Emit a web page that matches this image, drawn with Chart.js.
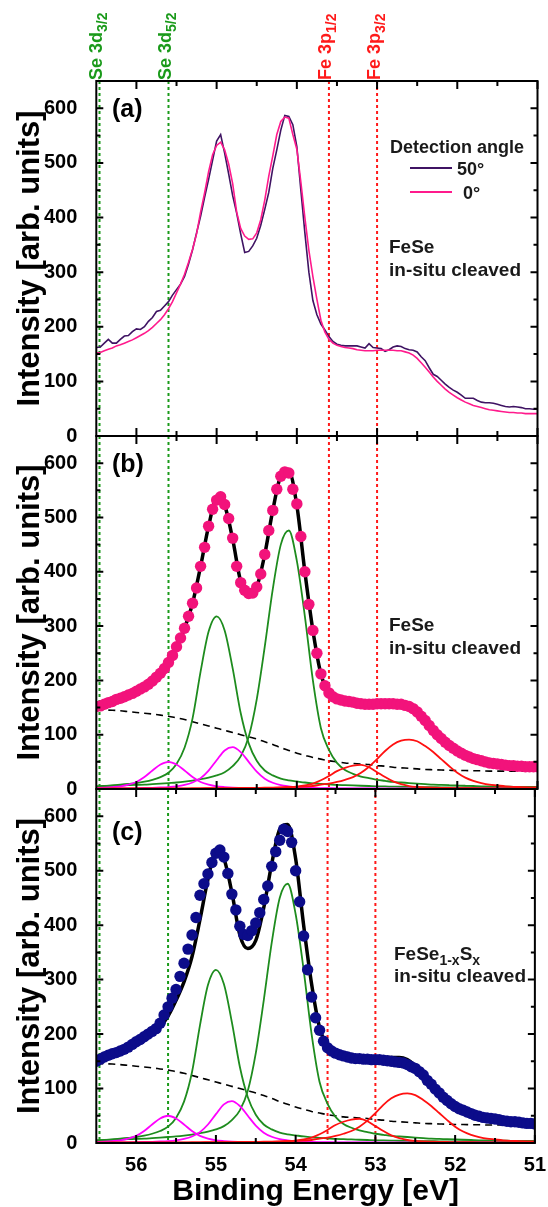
<!DOCTYPE html>
<html>
<head>
<meta charset="utf-8">
<script src="https://cdn.jsdelivr.net/npm/chart.js@4.4.0/dist/chart.umd.min.js"></script>
<style>
  html, body { margin: 0; padding: 0; background: #fff; }
  #wrap { position: relative; width: 548px; height: 1207px; overflow: hidden; }
  canvas { position: absolute; left: 0; }
</style>
</head>
<body>
<div id="wrap">
  <canvas id="pa" width="548" height="460" style="top:0px;width:548px;height:460px"></canvas>
  <canvas id="pb" width="548" height="408" style="top:412px;width:548px;height:408px"></canvas>
  <canvas id="pc" width="548" height="442" style="top:765px;width:548px;height:442px"></canvas>
</div>
<script>
// measured spectra, 0.05 eV steps
const energy = [56.5,56.45,56.4,56.35,56.3,56.25,56.2,56.15,56.1,56.05,
  56,55.95,55.9,55.85,55.8,55.75,55.7,55.65,55.6,55.55,
  55.5,55.45,55.4,55.35,55.3,55.25,55.2,55.15,55.1,55.05,
  55,54.95,54.9,54.85,54.8,54.75,54.7,54.65,54.6,54.55,
  54.5,54.45,54.4,54.35,54.3,54.25,54.2,54.15,54.1,54.05,
  54,53.95,53.9,53.85,53.8,53.75,53.7,53.65,53.6,53.55,
  53.5,53.45,53.4,53.35,53.3,53.25,53.2,53.15,53.1,53.05,
  53,52.95,52.9,52.85,52.8,52.75,52.7,52.65,52.6,52.55,
  52.5,52.45,52.4,52.35,52.3,52.25,52.2,52.15,52.1,52.05,
  52,51.95,51.9,51.85,51.8,51.75,51.7,51.65,51.6,51.55,
  51.5,51.45,51.4,51.35,51.3,51.25,51.2,51.15,51.1,51.05,
  51];

// FeSe, 0 deg (panel a pink line, panel b markers)
const fese0 = [152,153,156,159,161,165,167,170,173,176,
  180,184,188,193,199,206,213,222,233,246,
  262,278,296,318,342,370,410,445,484,515,
  532,538,524,498,462,410,380,366,360,361,
  372,396,432,476,513,552,576,584,582,552,
  525,465,400,340,292,250,212,190,177,170,
  166,164,162,161,160,158,157,156,156,156,
  157,157,157,157,157,156,156,154,152,148,
  142,134,126,117,108,100,93,86,80,75,
  70,66,62,59,56,54,52,50,48,47,
  46,45,44,43,43,42,42,41,41,41,
  41];

// FeSe, 50 deg
const fese50 = [162,163,170,177,170,170,177,183,184,191,
  196,195,200,210,217,228,230,238,246,258,
  268,278,292,315,341,372,402,437,470,505,
  540,552,518,480,440,408,370,336,338,348,
  362,386,415,446,490,524,560,587,585,570,
  530,450,372,300,248,222,205,194,182,173,
  168,166,165,165,165,165,163,161,169,162,
  161,160,155,158,163,165,164,160,158,157,
  154,145,138,125,113,109,102,95,89,84,
  80,75,69,69,69,65,62,61,61,60,
  58,56,54,53,54,53,52,50,50,49,
  49];

// FeSe1-xSx (panel c markers)
const feses = [150,154,158,161,164,166,169,172,176,181,
  186,190,195,200,205,210,220,235,250,266,
  282,306,330,356,382,414,455,476,494,515,
  532,538,525,495,457,428,398,383,381,390,
  404,423,447,472,508,535,556,576,572,552,
  500,443,380,318,268,230,207,187,175,169,
  165,162,160,158,156,155,155,154,154,153,
  153,153,152,151,150,149,148,147,144,140,
  137,131,125,115,108,99,92,84,78,72,
  67,63,60,57,54,51,49,47,46,45,
  44,43,41,40,39,39,38,37,36,36,
  35];

// fit curves, 0.1 eV steps
const fitEnergy = [56.5,56.4,56.3,56.2,56.1,56,55.9,55.8,55.7,55.6,
  55.5,55.4,55.3,55.2,55.1,55,54.9,54.8,54.7,54.6,
  54.5,54.4,54.3,54.2,54.1,54,53.9,53.8,53.7,53.6,
  53.5,53.4,53.3,53.2,53.1,53,52.9,52.8,52.7,52.6,
  52.5,52.4,52.3,52.2,52.1,52,51.9,51.8,51.7,51.6,
  51.5,51.4,51.3,51.2,51.1,51];

const fitTotal = [152,156,161,167,173,180,188,199,213,233,
  262,296,342,410,484,535,522,460,382,357,
  372,432,513,576,585,522,400,292,212,177,
  166,162,160,157,156,157,157,157,157,153,
  142,126,108,93,80,70,62,56,52,48,
  46,44,43,42,41,41];

const background = [146,145.5,145,144,142.5,141,139.5,138,136,134,
  131,128,124,120,116,112,108,104,100,96,
  92,87,82,76,71,66,62,58,55,52,
  50,48,47,46,45,43,42,40,39,38,
  37,36,35.5,35,34.5,34,34,33.5,33.5,33,
  33,33,33,33,33,33];

const se3d52 = [4.5,5.5,6.5,8,9.5,11,13.5,17,22,30,
  46,76,130,216,290,318,292,222,140,84,
  52,34,25,19,16,14,12,10.5,9.5,8.5,
  7.5,7,6.5,6,5.5,5,4.7,4.4,4.1,3.9,
  3.7,3.5,3.3,3.1,3,2.9,2.8,2.7,2.6,2.5,
  2.4,2.3,2.2,2.1,2,2];

const se3d32 = [5,5.5,6,6.5,7,7.5,8,9,10,11,
  12,13.5,15.5,18,21,25,31,42,60,96,
  165,262,368,450,476,420,318,200,112,72,
  48,35,28,23,20,17,15,13,12,11,
  10,9,8,7.5,7,6.5,6,5.5,5,5,
  4.5,4.5,4,4,4,3.5];

const seMagentaA = [2,2.5,3.5,5,8,13,22,34,45,50,
  45,34,22,13,8,5,3.5,2.5,2,1.6,
  1.4,1.2,1.1,1,1,0.9,0.9,0.8,0.8,0.8,
  0.7,0.7,0.7,0.7,0.6,0.6,0.6,0.6,0.6,0.5,
  0.5,0.5,0.5,0.5,0.5,0.5,0.5,0.5,0.5,0.5,
  0.5,0.4,0.4,0.4,0.4,0.4];

const seMagentaB = [0.9,1,1.1,1.2,1.3,1.5,1.8,2.2,2.8,3.6,
  5,7.5,12,20,34,53,71,77,68,50,
  32,19,11.5,7,4.8,3.4,2.6,2,1.7,1.5,
  1.3,1.2,1.1,1,0.9,0.9,0.8,0.8,0.8,0.7,
  0.7,0.7,0.7,0.6,0.6,0.6,0.6,0.6,0.5,0.5,
  0.5,0.5,0.5,0.5,0.5,0.5];

const fe3p12 = [0.5,0.5,0.5,0.5,0.5,0.6,0.6,0.6,0.7,0.7,
  0.8,0.8,0.9,0.9,1,1.1,1.2,1.3,1.4,1.5,
  1.7,1.9,2.2,2.7,3.4,4.5,6.5,10,16,24,
  33,39,43,44.5,40,31,22,14,9,5.5,
  3.8,2.8,2.3,2,1.8,1.6,1.5,1.4,1.3,1.2,
  1.2,1.1,1.1,1,1,1];

const fe3p32 = [0.8,0.8,0.9,0.9,0.9,1,1,1,1.1,1.1,
  1.2,1.2,1.3,1.3,1.4,1.5,1.6,1.7,1.8,1.9,
  2.1,2.3,2.6,3,3.5,4,4.5,5.5,8,10,
  13,17,22,30,41,55,70,82,89,91,
  88,79,68,55,42,30,21,15,11,8,
  6.5,5,4,3.5,3,2.8];

// axes
const xMajor = [56, 55, 54, 53, 52, 51];
const xMinor = [55.5, 54.5, 53.5, 52.5, 51.5];
const yMajor = [0, 100, 200, 300, 400, 500, 600];
const yMinor = [50, 150, 250, 350, 450, 550];

// reference lines (Se 3d, Fe 3p)
const guideEnergy = [56.46, 55.6, 53.6, 53.0];
const guideColor = ['#1a9a1a', '#1a9a1a', '#ff1a1a', '#ff1a1a'];
const guideText = [['Se 3d', '3/2'], ['Se 3d', '5/2'], ['Fe 3p', '1/2'], ['Fe 3p', '3/2']];

const FONT = "'Liberation Sans', Arial, sans-serif";
const PURPLE = '#3f1363';
const PINK = '#ff1a8c';
const PINK_DOT = '#f2137b';
const NAVY = '#0c0c8a';
const GREEN = '#1e8c1e';
const MAGENTA = '#ff00ff';
const RED = '#ff1010';

Chart.defaults.font.family = FONT;

const pts = (xs, ys) => xs.map((x, i) => ({ x: x, y: ys[i] }));

function richText(ctx, parts, x, y, rotate, color) {
  ctx.save();
  ctx.translate(x, y);
  if (rotate) ctx.rotate(-Math.PI / 2);
  ctx.fillStyle = color;
  ctx.textAlign = 'left';
  ctx.textBaseline = 'alphabetic';
  let cx = 0;
  parts.forEach(p => {
    ctx.font = 'bold ' + p[1] + 'px ' + FONT;
    ctx.fillText(p[0], cx, p[2] || 0);
    cx += ctx.measureText(p[0]).width;
  });
  ctx.restore();
}

const panelPlugin = {
  id: 'panel',
  beforeDatasetsDraw(chart) {
    const { ctx, chartArea: a, scales: { x } } = chart;
    ctx.save();
    ctx.lineWidth = 2;
    ctx.setLineDash([3, 3]);
    guideEnergy.forEach((e, i) => {
      const px = x.getPixelForValue(e);
      ctx.strokeStyle = guideColor[i];
      ctx.beginPath();
      ctx.moveTo(px, a.top);
      ctx.lineTo(px, a.bottom);
      ctx.stroke();
    });
    ctx.restore();
  },
  afterDraw(chart, args, o) {
    const { ctx, chartArea: a, scales: { x, y } } = chart;
    ctx.save();
    // frame + inward ticks
    ctx.strokeStyle = '#000';
    ctx.lineWidth = 2;
    ctx.strokeRect(a.left, a.top, a.right - a.left, a.bottom - a.top);
    ctx.beginPath();
    const tickX = (list, len) => list.forEach(v => {
      const px = x.getPixelForValue(v);
      ctx.moveTo(px, a.top); ctx.lineTo(px, a.top + len);
      ctx.moveTo(px, a.bottom); ctx.lineTo(px, a.bottom - len);
    });
    const tickY = (list, len) => list.forEach(v => {
      const py = y.getPixelForValue(v);
      ctx.moveTo(a.left, py); ctx.lineTo(a.left + len, py);
      ctx.moveTo(a.right, py); ctx.lineTo(a.right - len, py);
    });
    tickX(xMajor, 8); tickX(xMinor, 5);
    tickY(yMajor, 7); tickY(yMinor, 4);
    ctx.stroke();

    // panel letter
    ctx.fillStyle = '#000';
    ctx.font = 'bold 25px ' + FONT;
    ctx.textBaseline = 'middle';
    ctx.fillText(o.label, 112, a.top + o.labelDy);

    // sample notes
    (o.notes || []).forEach(n => richText(ctx, n.parts, n.x, a.top + n.dy, false, '#1a1a1a'));

    // legend (panel a only)
    if (o.legend) {
      richText(ctx, [['Detection angle', 18]], 390, 152.5, false, '#1a1a1a');
      ctx.lineWidth = 2;
      ctx.strokeStyle = PURPLE;
      ctx.beginPath(); ctx.moveTo(410, 168); ctx.lineTo(452, 168); ctx.stroke();
      ctx.strokeStyle = PINK;
      ctx.beginPath(); ctx.moveTo(410, 192); ctx.lineTo(452, 192); ctx.stroke();
      richText(ctx, [['50°', 18]], 457, 174.5, false, '#1a1a1a');
      richText(ctx, [['0°', 18]], 463, 198.5, false, '#1a1a1a');
    }

    // rotated line labels above panel a
    if (o.topLabels) {
      guideEnergy.forEach((e, i) => {
        const px = x.getPixelForValue(e) + 2.5;
        richText(ctx, [[guideText[i][0], 18], [guideText[i][1], 14, 5]], px, 80, true, guideColor[i]);
      });
    }
    ctx.restore();
  }
};

function options(cfg) {
  return {
    responsive: false,
    animation: false,
    devicePixelRatio: 1,
    layout: { padding: { top: cfg.padTop, bottom: cfg.padBottom, left: 0, right: 10.5 } },
    plugins: { legend: { display: false }, tooltip: { enabled: false }, panel: cfg.panel },
    elements: { point: { radius: 0 } },
    scales: {
      x: {
        type: 'linear', min: 51, max: 56.5, reverse: true, display: cfg.showX,
        grid: { display: false }, border: { display: false },
        afterBuildTicks: s => { s.ticks = xMajor.map(v => ({ value: v })); },
        afterFit: s => { if (cfg.showX) s.height = 64; },
        ticks: { font: { size: 20, weight: 'bold' }, color: '#000', padding: 2, maxRotation: 0, autoSkip: false },
        title: { display: true, text: 'Binding Energy [eV]', color: '#000',
                 font: { size: 30, weight: 'bold', lineHeight: 1 }, padding: 0 }
      },
      y: {
        min: 0, max: 650,
        grid: { display: false }, border: { display: false },
        afterBuildTicks: s => { s.ticks = yMajor.map(v => ({ value: v })); },
        afterFit: s => { s.width = 96.3; },
        ticks: { font: { size: 20, weight: 'bold' }, color: '#000', padding: 11 },
        title: { display: true, text: 'Intensity [arb. units]', color: '#000',
                 font: { size: 31, weight: 'bold', lineHeight: 1 }, padding: { top: 14.5, bottom: 0 } }
      }
    }
  };
}

function fitSets(dotColor, dots) {
  const comp = (ys, color, order) => ({
    data: pts(fitEnergy, ys), borderColor: color, borderWidth: 1.8, pointRadius: 0,
    fill: false, cubicInterpolationMode: 'monotone', order: order
  });
  return [
    { data: pts(energy, dots), showLine: false, pointRadius: 5.7, pointHoverRadius: 5.7,
      pointBackgroundColor: dotColor, pointBorderWidth: 0, order: 0 },
    { data: pts(fitEnergy, fitTotal), borderColor: '#000', borderWidth: 3.5, pointRadius: 0,
      fill: false, cubicInterpolationMode: 'monotone', order: 1 },
    comp(fe3p32, RED, 2),
    comp(fe3p12, RED, 2),
    comp(seMagentaA, MAGENTA, 3),
    comp(seMagentaB, MAGENTA, 3),
    comp(se3d52, GREEN, 4),
    comp(se3d32, GREEN, 4),
    { data: pts(fitEnergy, background), borderColor: '#000', borderWidth: 1.6, borderDash: [7, 5],
      pointRadius: 0, fill: false, cubicInterpolationMode: 'monotone', order: 5 }
  ];
}

// (a) angle dependence
new Chart(document.getElementById('pa'), {
  type: 'line',
  data: {
    datasets: [
      { data: pts(energy, fese0), borderColor: PINK, borderWidth: 1.6, pointRadius: 0, fill: false, order: 0 },
      { data: pts(energy, fese50), borderColor: PURPLE, borderWidth: 1.6, pointRadius: 0, fill: false, order: 1 }
    ]
  },
  options: options({
    padTop: 81, padBottom: 24, showX: false,
    panel: {
      label: '(a)', labelDy: 29, legend: true, topLabels: true,
      notes: [
        { x: 389, dy: 172, parts: [['FeSe', 19]] },
        { x: 389, dy: 195, parts: [['in-situ cleaved', 19]] }
      ]
    }
  }),
  plugins: [panelPlugin]
});

// (b) FeSe fit
new Chart(document.getElementById('pb'), {
  type: 'line',
  data: { datasets: fitSets(PINK_DOT, fese0) },
  options: options({
    padTop: 24, padBottom: 31, showX: false,
    panel: {
      label: '(b)', labelDy: 29,
      notes: [
        { x: 389, dy: 195, parts: [['FeSe', 19]] },
        { x: 389, dy: 218, parts: [['in-situ cleaved', 19]] }
      ]
    }
  }),
  plugins: [panelPlugin]
});

// (c) FeSe1-xSx
new Chart(document.getElementById('pc'), {
  type: 'line',
  data: { datasets: fitSets(NAVY, feses) },
  options: options({
    padTop: 24, padBottom: 0, showX: true,
    panel: {
      label: '(c)', labelDy: 44,
      notes: [
        { x: 394, dy: 170.5, parts: [['FeSe', 19], ['1-x', 14, 5], ['S', 19], ['x', 14, 5]] },
        { x: 394, dy: 193, parts: [['in-situ cleaved', 19]] }
      ]
    }
  }),
  plugins: [panelPlugin]
});
</script>
</body>
</html>
